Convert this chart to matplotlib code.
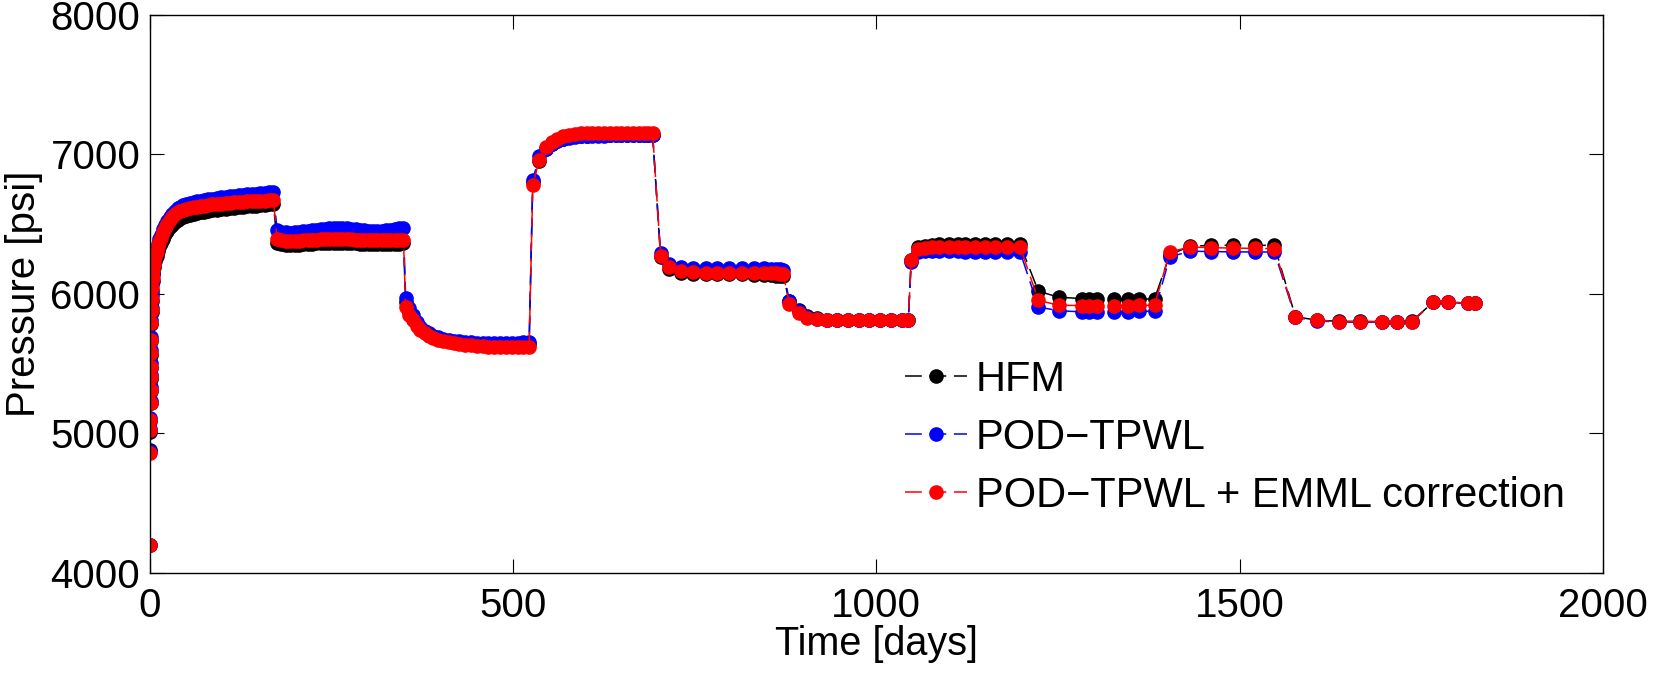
import matplotlib
matplotlib.use("Agg")
import matplotlib.pyplot as plt

plt.rcParams['font.family'] = ['Liberation Sans', 'DejaVu Sans']

# time steps [days]
days = [
    0, 0.2, 0.4, 0.6, 0.8, 1.0, 1.2, 1.4, 1.6, 1.8, 2.0, 2.3, 2.6, 3.0, 3.5, 4,
    5, 7, 9, 11, 13, 15, 18, 21, 24, 27, 30, 34, 38, 42, 46, 50, 55, 60, 65, 70,
    75, 80, 86, 92, 98, 104, 110, 116, 122, 128, 134, 140, 146, 152, 158, 164, 170,
    175, 181, 187, 193, 199, 205, 211, 217, 223, 229, 235, 241, 247, 253, 259,
    265, 271, 277, 283, 289, 295, 301, 307, 313, 319, 325, 331, 337, 343, 349,
    352, 357, 362, 367, 372, 378, 384, 390, 397, 404, 411, 418, 426, 434, 442,
    450, 458, 466, 474, 482, 490, 498, 506, 514, 522,
    527, 536, 545, 553, 561, 569, 577, 585, 593, 601, 609, 617, 625, 633, 641,
    649, 657, 665, 673, 680, 686, 692,
    703, 714, 731, 747, 765, 781, 797, 815, 831, 845, 855, 862, 868, 872,
    880, 893, 905, 918, 932, 946, 961, 976, 990, 1005, 1020, 1035, 1044,
    1048, 1058, 1067, 1077, 1086, 1100, 1113, 1122, 1136, 1150, 1163, 1180, 1198,
    1223, 1251, 1283, 1293, 1304, 1327, 1347, 1361, 1383,
    1404, 1432, 1461, 1491, 1522, 1548,
    1577, 1607, 1637, 1666, 1696, 1717, 1737,
    1767, 1787, 1814, 1824,
]

hfm = [
    4200, 4880, 5010, 5090, 5215, 5300, 5390, 5470, 5560, 5660, 5780, 5870, 5950, 6020, 6090, 6150,
    6190, 6235, 6270, 6305, 6335, 6360, 6395, 6425, 6450, 6475, 6495, 6515, 6530, 6542, 6551, 6558,
    6565, 6572, 6578, 6583, 6588, 6592, 6597, 6601, 6605, 6609, 6613, 6617, 6620, 6623, 6626, 6629,
    6632, 6635, 6638, 6641, 6644,
    6360, 6355, 6352, 6350, 6350, 6352, 6354, 6356, 6358, 6360, 6362, 6364, 6366, 6367, 6367,
    6366, 6364, 6362, 6360, 6358, 6357, 6356, 6355, 6355, 6355, 6356, 6357, 6358, 6359, 6360,
    5940, 5870, 5825, 5780, 5750, 5725, 5707, 5692, 5680, 5670, 5662, 5656, 5650, 5646, 5642,
    5640, 5638, 5637, 5636, 5636, 5636, 5636, 5637, 5638, 5640,
    6800, 6950, 7035, 7072, 7095, 7110, 7120, 7127, 7131, 7134, 7136, 7137, 7138, 7138, 7138,
    7138, 7138, 7138, 7138, 7138, 7138, 7138,
    6260, 6180, 6150, 6142, 6140, 6140, 6140, 6138, 6136, 6134, 6132, 6130, 6128, 6126,
    5945, 5880, 5840, 5826, 5815, 5812, 5810, 5809, 5809, 5809, 5809, 5809, 5809,
    6245, 6335, 6345, 6350, 6353, 6355, 6355, 6355, 6355, 6355, 6355, 6354, 6354,
    6018, 5975, 5965, 5965, 5962, 5962, 5962, 5962, 5962,
    6280, 6340, 6347, 6347, 6347, 6347,
    5835, 5810, 5802, 5801, 5800, 5800, 5802,
    5941, 5941, 5932, 5932,
]

pod_tpwl = [
    4200, 4870, 5030, 5110, 5230, 5330, 5420, 5500, 5600, 5690, 5810, 5900, 5990, 6070, 6140, 6200,
    6225, 6275, 6318, 6358, 6390, 6420, 6462, 6493, 6522, 6548, 6572, 6595, 6612, 6624, 6633, 6641,
    6648, 6655, 6661, 6666, 6671, 6676, 6681, 6686, 6690, 6694, 6698, 6702, 6706, 6709, 6712, 6715,
    6718, 6721, 6724, 6727, 6730,
    6455, 6445, 6440, 6438, 6440, 6443, 6447, 6450, 6454, 6458, 6462, 6466, 6469, 6471, 6472,
    6471, 6469, 6466, 6462, 6458, 6455, 6452, 6450, 6450, 6452, 6455, 6460, 6465, 6470, 6472,
    5971, 5900, 5850, 5795, 5760, 5735, 5715, 5700, 5688, 5678, 5670, 5664, 5658, 5654, 5651,
    5649, 5647, 5646, 5646, 5646, 5647, 5648, 5650, 5652, 5655,
    6815, 6990, 7040, 7075, 7095, 7108, 7117, 7123, 7127, 7130, 7132, 7133, 7134, 7135, 7135,
    7135, 7135, 7135, 7135, 7135, 7135, 7135,
    6290, 6215, 6190, 6185, 6185, 6185, 6185, 6185, 6185, 6183, 6180, 6178, 6175, 6172,
    5950, 5875, 5835, 5822, 5812, 5810, 5809, 5808, 5808, 5808, 5808, 5808, 5808,
    6230, 6300, 6305, 6305, 6305, 6304, 6303, 6302, 6301, 6300, 6300, 6299, 6299,
    5905, 5878, 5870, 5870, 5870, 5870, 5872, 5873, 5875,
    6263, 6305, 6302, 6300, 6299, 6299,
    5830, 5805, 5797, 5796, 5795, 5795, 5797,
    5938, 5938, 5930, 5930,
]

pod_tpwl_emml = [
    4200, 4860, 5025, 5095, 5215, 5310, 5400, 5475, 5575, 5665, 5790, 5880, 5960, 6040, 6110, 6170,
    6210, 6260, 6300, 6340, 6370, 6400, 6440, 6470, 6500, 6525, 6550, 6570, 6585, 6595, 6603, 6610,
    6615, 6620, 6625, 6628, 6632, 6636, 6640, 6643, 6646, 6649, 6652, 6655, 6657, 6659, 6661, 6663,
    6665, 6667, 6668, 6669, 6670,
    6395, 6385, 6380, 6378, 6378, 6380, 6382, 6384, 6386, 6388, 6390, 6392, 6394, 6395, 6395,
    6394, 6392, 6390, 6388, 6386, 6385, 6384, 6383, 6382, 6382, 6382, 6383, 6384, 6385, 6385,
    5905, 5850, 5809, 5765, 5737, 5715, 5697, 5682, 5670, 5660, 5652, 5645, 5638, 5633, 5629,
    5626, 5623, 5621, 5620, 5619, 5618, 5618, 5618, 5618, 5618,
    6779, 6962, 7052, 7090, 7112, 7128, 7140, 7146, 7150, 7152, 7153, 7154, 7154, 7154, 7154,
    7154, 7154, 7154, 7154, 7154, 7154, 7154,
    6269, 6191, 6163, 6155, 6152, 6152, 6152, 6150, 6150, 6148, 6146, 6145, 6144, 6144,
    5929, 5862, 5829, 5821, 5812, 5810, 5809, 5809, 5809, 5809, 5809, 5809, 5809,
    6240, 6323, 6330, 6335, 6337, 6338, 6338, 6338, 6338, 6338, 6337, 6336, 6335,
    5953, 5917, 5915, 5915, 5915, 5915, 5915, 5916, 5917,
    6299, 6335, 6330, 6327, 6325, 6323,
    5833, 5809, 5800, 5800, 5798, 5797, 5800,
    5941, 5941, 5932, 5932,
]

labels = ['HFM', 'POD\u2212TPWL', 'POD\u2212TPWL + EMML correction']
colors = ['black', 'blue', 'red']

fig = plt.figure(figsize=(16.74, 6.84), dpi=100)
ax = fig.add_axes([0.0896, 0.1627, 0.8678, 0.8158])

for series, lab, col in zip([hfm, pod_tpwl, pod_tpwl_emml], labels, colors):
    ax.plot(days, series, color=col, linestyle='--', dashes=(11, 5), linewidth=1.1,
            marker='o', markersize=9.5, markerfacecolor=col, markeredgecolor=col,
            label=lab)

ax.set_xlim(0, 2000)
ax.set_ylim(4000, 8000)
ax.set_xticks([0, 500, 1000, 1500, 2000])
ax.set_yticks([4000, 5000, 6000, 7000, 8000])
ax.tick_params(direction='in', length=10, width=0.8, top=True, right=True,
               labelsize=29)
ax.tick_params(axis='x', pad=10)
ax.tick_params(axis='y', pad=7)
for s in ax.spines.values():
    s.set_linewidth(1.0)

ax.set_xlabel('Time [days]', fontsize=28.5, labelpad=0)
ax.set_ylabel('Pressure [psi]', fontsize=29, labelpad=5)

ax.legend(loc='upper left', bbox_to_anchor=(905 / 1674, 1 - 360 / 684),
          bbox_transform=fig.transFigure, frameon=False, fontsize=30,
          handlelength=1.5, handletextpad=0.2, labelspacing=0.43,
          borderpad=0, borderaxespad=0)

fig.savefig('out.png', dpi=100)
